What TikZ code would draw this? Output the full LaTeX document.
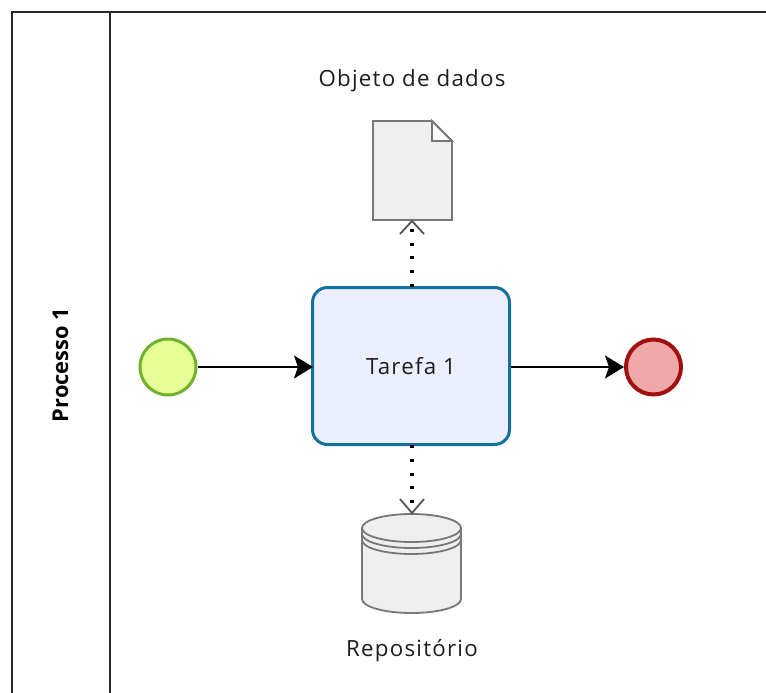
\documentclass[tikz,border=0pt]{standalone}
\usepackage{fontspec}
\setmainfont{Open Sans}
\newfontfamily\spaced[LetterSpace=5.5]{Open Sans}
\usetikzlibrary{arrows.meta}
\definecolor{laneline}{HTML}{2B2B2B}
\definecolor{startfill}{HTML}{E6FF97}
\definecolor{startline}{HTML}{6FB22A}
\definecolor{endfill}{HTML}{EFA9A9}
\definecolor{endline}{HTML}{A20F0F}
\definecolor{taskfill}{HTML}{EBEFFF}
\definecolor{taskline}{HTML}{14719F}
\definecolor{artfill}{HTML}{EFEFEF}
\definecolor{artline}{HTML}{777777}
\definecolor{txt}{HTML}{1E1E1E}
\tikzset{
  x=1pt,y=-1pt,
  label text/.style={font=\spaced\fontsize{22.3pt}{26pt}\selectfont,text=txt,inner sep=0pt},
  start event/.style={circle,draw=startline,fill=startfill,line width=3pt,minimum size=56pt,inner sep=0pt},
  end event/.style={circle,draw=endline,fill=endfill,line width=4pt,minimum size=55pt,inner sep=0pt},
  task box/.style={rectangle,rounded corners=15pt,draw=taskline,fill=taskfill,line width=3pt,minimum width=197pt,minimum height=157pt,label text},
  anchor box/.style={rectangle,draw=none,inner sep=0pt},
  flow/.style={draw=black,line width=1.8pt,-{Triangle[length=19pt,width=23pt,fill=black,inset=4pt]}},
  assoc/.style={draw=black,line width=3.4pt,dash pattern=on 3pt off 10.8pt,shorten >=1pt},
  openhead/.style={draw=laneline!80!white,line width=1.8pt},
  art/.style={draw=artline,fill=artfill,line width=1.8pt,line join=miter},
  artline only/.style={draw=artline,line width=1.8pt},
  lane/.style={draw=laneline,line width=2pt}
}
\begin{document}
\begin{tikzpicture}
\useasboundingbox (0,0) rectangle (766,693);
\fill[white] (0,0) rectangle (766,693);
% lane
\coordinate (fa) at (12,693);
\coordinate (fb) at (12,12);
\coordinate (fc) at (766,12);
\coordinate (la) at (110,12);
\coordinate (lb) at (110,693);
\draw[lane] (fa) -- (fb) -- (fc);
\draw[lane] (la) -- (lb);
\node[rotate=90,font=\bfseries\fontsize{21.8pt}{26pt}\selectfont,text=black,inner sep=0pt] (lanetitle) at (60.5,365) {Processo 1};
% events & task
\node[start event] (start) at (168,367) {};
\node[end event] (end) at (653.5,367) {};
\node[task box] (task) at (411,366) {Tarefa 1};
% data object
\node[anchor box,minimum width=79pt,minimum height=99pt] (doc) at (412.5,170.5) {};
\draw[art] (373,121) -- (432,121) -- (452,141) -- (452,220) -- (373,220) -- cycle;
\draw[art,fill=white] (432,121) -- (452,141) -- (432,141) -- cycle;
\node[label text] (doclabel) at (412,81) {Objeto de dados};
% repository
\node[anchor box,minimum width=99pt,minimum height=99pt] (repo) at (411.5,563.5) {};
\draw[art] (362,528) -- (362,599) arc[start angle=180,end angle=360,x radius=49.5,y radius=-14]
  -- (461,528) arc[start angle=0,end angle=180,x radius=49.5,y radius=-14] -- cycle;
\draw[artline only] (362,528) arc[start angle=180,end angle=360,x radius=49.5,y radius=-14];
\draw[artline only] (362,534) arc[start angle=180,end angle=360,x radius=49.5,y radius=-14];
\draw[artline only] (362,540) arc[start angle=180,end angle=360,x radius=49.5,y radius=-14];
\node[label text] (repolabel) at (412,651) {Repositório};
% connectors
\draw[flow,shorten >=-2pt] (start.east) -- (start.east -| task.west);
\draw[flow] (start.east -| task.east) -- (end.west);
\coordinate (up0) at (412,287);
\coordinate (up1) at (412,221);
\coordinate (dn0) at (412,445);
\coordinate (dn1) at (412,513);
\draw[assoc] (up0) -- (up1);
\draw[assoc] (dn0) -- (dn1);
\draw[openhead] (400,234) -- (up1) -- (424,234);
\draw[openhead] (400,499) -- (dn1) -- (424,499);
\end{tikzpicture}
\end{document}
